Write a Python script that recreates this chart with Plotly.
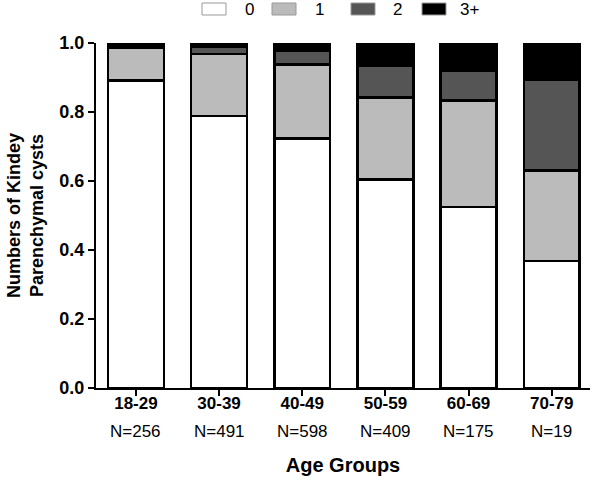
import plotly.graph_objects as go

age_groups = ["18-29", "30-39", "40-49", "50-59", "60-69", "70-79"]
n_labels = ["N=256", "N=491", "N=598", "N=409", "N=175", "N=19"]
p0 = [0.891, 0.788, 0.723, 0.604, 0.525, 0.368]
p1 = [0.096, 0.180, 0.215, 0.238, 0.308, 0.263]
p2 = [0.006, 0.020, 0.039, 0.091, 0.087, 0.263]
p3 = [0.007, 0.012, 0.023, 0.067, 0.080, 0.106]
series_names = ["0", "1", "2", "3+"]
series_colors = ["#ffffff", "#bbbbbb", "#555555", "#000000"]
y_ticks = [0.0, 0.2, 0.4, 0.6, 0.8, 1.0]

FONT = "Liberation Sans, Arial, sans-serif"
W, H = 600, 480
# plot area in window pixels: x 96..590, y 43..388
L, R, T, B = 96, W - 590, 43, H - 388

fig = go.Figure()
for name, vals, col in zip(series_names, [p0, p1, p2, p3], series_colors):
    fig.add_trace(go.Bar(
        x=list(range(len(age_groups))), y=vals, name=name,
        marker=dict(color=col, line=dict(color="black", width=2.5)),
        width=0.67, showlegend=False,
    ))

for i, lab in enumerate(n_labels):
    fig.add_annotation(x=i, y=0, xref="x", yref="y", text=lab, showarrow=False,
                       yshift=-43, font=dict(family=FONT, size=17, color="black"))

pw, ph = W - L - R, H - T - B
def px_x(p):
    return (p - L) / pw
def px_y(p):
    return (H - B - p) / ph
legend_boxes = [(202, 243), (272, 313), (351, 391), (422, 458)]
for (bx, tx), name, col in zip(legend_boxes, series_names, series_colors):
    fig.add_shape(type="rect", xref="paper", yref="paper",
                  x0=px_x(bx), x1=px_x(bx + 24), y0=px_y(15), y1=px_y(3),
                  fillcolor=col, line=dict(color="#999999", width=1))
    fig.add_annotation(xref="paper", yref="paper", x=px_x(tx), y=px_y(9),
                       xanchor="left", yanchor="middle", text=name, showarrow=False,
                       font=dict(family=FONT, size=17, color="black"))

fig.update_layout(
    width=W, height=H, barmode="stack",
    margin=dict(l=L, r=R, t=T, b=B),
    plot_bgcolor="white", paper_bgcolor="white",
    font=dict(family=FONT, color="black"),
)
fig.update_xaxes(
    range=[-0.48, 5.46], tickmode="array", tickvals=list(range(len(age_groups))),
    ticktext=age_groups, tickfont=dict(family=FONT, size=17, weight="bold"),
    showline=True, linecolor="black", linewidth=2, ticks="outside", ticklen=6,
    tickwidth=2, tickcolor="black", showgrid=False, zeroline=False,
    ticklabelstandoff=-7, automargin=False,
    title=dict(text="<b>Age Groups</b>", font=dict(family=FONT, size=20), standoff=46),
)
fig.update_yaxes(
    range=[0, 1.0], tickmode="array", tickvals=y_ticks,
    ticktext=[f"{v:.1f}" for v in y_ticks], tickfont=dict(family=FONT, size=18, weight="bold"),
    showline=True, linecolor="black", linewidth=2, ticks="outside", ticklen=6,
    tickwidth=2, tickcolor="black", showgrid=False, zeroline=False, automargin=False,
    title=dict(text="<b>Numbers of Kindey<br>Parenchymal cysts</b>",
               font=dict(family=FONT, size=18), standoff=11),
)

fig.write_html("out.html", config={"displayModeBar": False},
               post_script="document.body.style.margin='0';")
